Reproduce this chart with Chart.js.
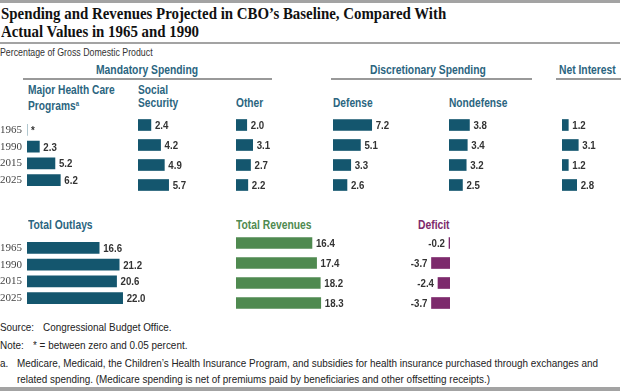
<!DOCTYPE html>
<html>
<head>
<meta charset="utf-8">
<script src="https://cdn.jsdelivr.net/npm/chart.js@4.4.1/dist/chart.umd.min.js"></script>
<style>
  body { margin: 0; background: #fff; }
  #page { position: relative; width: 624px; height: 391px; overflow: hidden; background: #fff;
          font-family: "Liberation Sans", sans-serif; color: #222; }
  .abs { position: absolute; white-space: nowrap; transform-origin: left top; }
  .rule { position: absolute; background: #a3a3a3; }
  .title { font-family: "Liberation Serif", serif; font-weight: bold; font-size: 16px; line-height: 18px; color: #111; transform: scaleX(0.93); }
  .unit { font-size: 10px; line-height: 12px; color: #333; transform: scaleX(0.88); }
  .hdr { font-weight: bold; font-size: 12px; line-height: 14px; color: #2b6580; transform: scaleX(0.86); }
  .sub { font-weight: bold; font-size: 12px; line-height: 13px; color: #2b6580; transform: scaleX(0.85); }
  .note { font-size: 11px; line-height: 16px; color: #222; transform: scaleX(0.9); }
  sup { font-size: 7px; vertical-align: 4px; }
  canvas { position: absolute; }
</style>
</head>
<body>
<div id="page">
  <div class="rule" style="left:0;top:0;width:620px;height:3px"></div>
  <div class="abs title" style="left:1px;top:5px">Spending and Revenues Projected in CBO’s Baseline, Compared With<br>Actual Values in 1965 and 1990</div>
  <div class="rule" style="left:0;top:42px;width:620px;height:2px"></div>
  <div class="abs unit" style="left:0;top:47px">Percentage of Gross Domestic Product</div>

  <div class="abs hdr" style="left:96px;top:63px">Mandatory Spending</div>
  <div class="abs hdr" style="left:370px;top:63px">Discretionary Spending</div>
  <div class="abs hdr" style="left:559px;top:63px">Net Interest</div>
  <div class="rule" style="left:23px;top:78px;width:249px;height:2px;background:#999"></div>
  <div class="rule" style="left:331px;top:78px;width:201px;height:2px;background:#999"></div>
  <div class="rule" style="left:556px;top:78px;width:65px;height:2px;background:#999"></div>

  <div class="abs sub" style="left:28px;top:84px">Major Health Care<br>Programs<sup>a</sup></div>
  <div class="abs sub" style="left:138px;top:84px">Social<br>Security</div>
  <div class="abs sub" style="left:236px;top:97px">Other</div>
  <div class="abs sub" style="left:333px;top:97px">Defense</div>
  <div class="abs sub" style="left:449px;top:97px">Nondefense</div>

  <div class="abs hdr" style="left:28px;top:218px">Total Outlays</div>
  <div class="abs hdr" style="left:236px;top:218px;color:#4f8a50">Total Revenues</div>
  <div class="abs hdr" style="left:418px;top:218px;color:#7d2a6c">Deficit</div>

  <div class="abs note" style="left:0;top:319px">Source:</div>
  <div class="abs note" style="left:43px;top:319px">Congressional Budget Office.</div>
  <div class="abs note" style="left:0;top:337px">Note:</div>
  <div class="abs note" style="left:33px;top:337px">* = between zero and 0.05 percent.</div>
  <div class="abs note" style="left:0;top:355px">a.</div>
  <div class="abs note" style="left:17px;top:355px">Medicare, Medicaid, the Children’s Health Insurance Program, and subsidies for health insurance purchased through exchanges and<br>related spending. (Medicare spending is net of premiums paid by beneficiaries and other offsetting receipts.)</div>
  <div class="rule" style="left:0;top:387px;width:620px;height:4px"></div>
</div>

<script>
const years = ['1965', '1990', '2015', '2025'];

// percentage of GDP
const healthCare     = [0, 2.3, 5.2, 6.2];   // 1965 is "*" (between zero and 0.05)
const socialSecurity = [2.4, 4.2, 4.9, 5.7];
const otherMandatory = [2.0, 3.1, 2.7, 2.2];
const defense        = [7.2, 5.1, 3.3, 2.6];
const nondefense     = [3.8, 3.4, 3.2, 2.5];
const netInterest    = [1.2, 3.1, 1.2, 2.8];
const totalOutlays   = [16.6, 21.2, 20.6, 22.0];
const totalRevenues  = [16.4, 17.4, 18.2, 18.3];
const deficit        = [-0.2, -3.7, -2.4, -3.7];

const BLUE = '#14566e';
const GREEN = '#4f8a50';
const PURPLE = '#7d2a6c';

function fmt(v) {
    if (v >= 0 && v < 0.05) return '*';
    return v.toFixed(1);
}

// value written at the end of each bar, squeezed to look like the condensed face
const valueLabels = {
    id: 'valueLabels',
    afterDatasetsDraw(chart) {
        const ctx = chart.ctx;
        const data = chart.data.datasets[0].data;
        chart.getDatasetMeta(0).data.forEach((bar, i) => {
            const v = data[i];
            ctx.save();
            ctx.font = 'bold 11px "Liberation Sans", sans-serif';
            ctx.fillStyle = '#333';
            ctx.textBaseline = 'middle';
            if (v < 0) {
                ctx.translate(bar.x - 4, bar.y + 1);
                ctx.textAlign = 'right';
            } else {
                ctx.translate(bar.x + 4, bar.y + 1);
                ctx.textAlign = 'left';
            }
            ctx.scale(0.88, 1);
            ctx.fillText(fmt(v), 0, 0);
            ctx.restore();
        });
    }
};

// x0 = pixel of the zero line on the page, ppu = pixels per percentage point
function panel(x0, top, values, color, ppu, max, showYears, negative) {
    const area = max * ppu;
    const axisW = showYears ? x0 : 0;
    const padL = negative ? 36 : 0;
    const padR = negative ? 0 : 36;
    const c = document.createElement('canvas');
    c.width = Math.round(axisW + area + padL + padR);
    c.height = 80;
    c.style.left = (negative ? x0 - area - padL : x0 - axisW) + 'px';
    c.style.top = top + 'px';
    document.getElementById('page').appendChild(c);

    new Chart(c, {
        type: 'bar',
        data: {
            labels: years,
            datasets: [{
                data: values,
                backgroundColor: color,
                borderWidth: 0,
                barThickness: 11
            }]
        },
        options: {
            indexAxis: 'y',
            responsive: false,
            animation: false,
            layout: { padding: { left: padL, right: padR, top: 0, bottom: 0 } },
            plugins: { legend: { display: false }, tooltip: { enabled: false } },
            scales: {
                x: {
                    display: false,
                    min: negative ? -max : 0,
                    max: negative ? 0 : max
                },
                y: {
                    display: showYears,
                    grid: { display: false },
                    border: { display: false },
                    ticks: {
                        crossAlign: 'far',
                        padding: 0,
                        color: '#444',
                        font: { family: '"Liberation Serif", serif', size: 11 }
                    },
                    afterFit(scale) { scale.width = axisW; }
                }
            }
        },
        plugins: [valueLabels]
    });
}

// top row
panel(27, 115, healthCare, BLUE, 5.35, 8, true, false);
panel(138, 115, socialSecurity, BLUE, 5.35, 8, false, false);
panel(236, 115, otherMandatory, BLUE, 5.35, 8, false, false);
panel(333, 115, defense, BLUE, 5.35, 8, false, false);
panel(449, 115, nondefense, BLUE, 5.35, 8, false, false);
panel(562, 115, netInterest, BLUE, 5.35, 4, false, false);

// bottom row
panel(27, 233, totalOutlays, BLUE, 4.36, 23, true, false);
panel(236, 233, totalRevenues, GREEN, 4.62, 19, false, false);
panel(450, 233, deficit, PURPLE, 4.9, 4, false, true);
</script>
</body>
</html>
